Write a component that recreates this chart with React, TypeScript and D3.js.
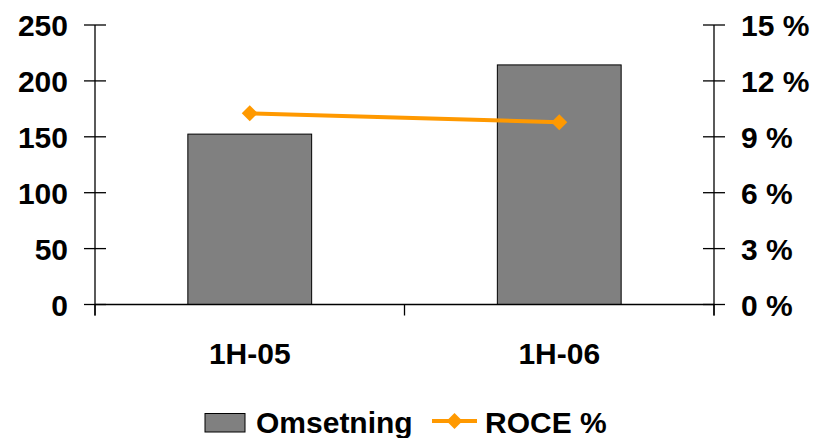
import React from "react";
import * as d3 from "d3";

const categories = ["1H-05", "1H-06"];
const omsetning = [152.4, 214.3];
const roce = [10.26, 9.78];
const leftTicks = [0, 50, 100, 150, 200, 250];
const rightTicks = [0, 3, 6, 9, 12, 15];

const W = 815;
const H = 438;
const FONT = "'Liberation Sans', Arial, sans-serif";

export default function App() {
  const left = 95;
  const right = 714;
  const top = 25;
  const bottom = 304.5;

  const x = d3.scaleBand<string>().domain(categories).range([left, right]).paddingInner(0).paddingOuter(0);
  const yL = d3.scaleLinear().domain([0, 250]).range([bottom, top]);
  const yR = d3.scaleLinear().domain([0, 15]).range([bottom, top]);
  const bw = x.bandwidth() * 0.4;
  const cx = (c: string) => (x(c) as number) + x.bandwidth() / 2;

  const linePath = d3
    .line<number>()
    .x((_, i) => cx(categories[i]))
    .y((d) => yR(d))(roce) as string;

  const diamond = (px: number, py: number, r: number) =>
    `M${px},${py - r}L${px + r},${py}L${px},${py + r}L${px - r},${py}Z`;

  const xTickPositions = [left, ...categories.slice(1).map((c) => x(c) as number), right];

  return (
    <svg width={W} height={H} style={{ position: "absolute", left: 0, top: 0, background: "#fff" }}>
      <rect x={0} y={0} width={W} height={H} fill="#fff" />
      {/* bars */}
      {categories.map((c, i) => (
        <rect
          key={c}
          x={cx(c) - bw / 2}
          y={yL(omsetning[i])}
          width={bw}
          height={bottom - yL(omsetning[i])}
          fill="#808080"
          stroke="#000"
          strokeWidth={1}
        />
      ))}
      {/* axes */}
      <line x1={left} x2={right} y1={bottom} y2={bottom} stroke="#000" strokeWidth={1.3} />
      <line x1={left} x2={left} y1={top} y2={bottom + 11} stroke="#000" strokeWidth={1.3} />
      <line x1={right} x2={right} y1={top} y2={bottom + 11} stroke="#000" strokeWidth={1.3} />
      {xTickPositions.map((p, i) => (
        <line key={"xt" + i} x1={p} x2={p} y1={bottom} y2={bottom + 11} stroke="#000" strokeWidth={1.3} />
      ))}
      {leftTicks.map((t) => (
        <g key={"lt" + t}>
          <line x1={left - 11} x2={left + 11} y1={yL(t)} y2={yL(t)} stroke="#000" strokeWidth={1.3} />
          <text
            x={68}
            y={yL(t) + 11}
            textAnchor="end"
            fontFamily={FONT}
            fontWeight="bold"
            fontSize={30}
            fill="#000"
          >
            {t}
          </text>
        </g>
      ))}
      {rightTicks.map((t) => (
        <g key={"rt" + t}>
          <line x1={right - 11} x2={right + 11} y1={yR(t)} y2={yR(t)} stroke="#000" strokeWidth={1.3} />
          <text
            x={741}
            y={yR(t) + 11}
            textAnchor="start"
            fontFamily={FONT}
            fontWeight="bold"
            fontSize={30}
            fill="#000"
          >
            {t + " %"}
          </text>
        </g>
      ))}
      {categories.map((c) => (
        <text
          key={"xl" + c}
          x={cx(c)}
          y={364}
          textAnchor="middle"
          fontFamily={FONT}
          fontWeight="bold"
          fontSize={30}
          fill="#000"
        >
          {c}
        </text>
      ))}
      {/* line */}
      <path d={linePath} fill="none" stroke="#FF9900" strokeWidth={4} />
      {roce.map((v, i) => (
        <path key={"m" + i} d={diamond(cx(categories[i]), yR(v), 8)} fill="#FF9900" />
      ))}
      {/* legend */}
      <rect x={205} y={413.5} width={40} height={18.5} fill="#808080" stroke="#000" strokeWidth={1} />
      <text x={256} y={433} fontFamily={FONT} fontWeight="bold" fontSize={30} fill="#000">
        Omsetning
      </text>
      <line x1={432} x2={477} y1={421} y2={421} stroke="#FF9900" strokeWidth={4} />
      <path d={diamond(454.5, 421, 8)} fill="#FF9900" />
      <text x={485} y={433} fontFamily={FONT} fontWeight="bold" fontSize={30} fill="#000">
        ROCE %
      </text>
    </svg>
  );
}
